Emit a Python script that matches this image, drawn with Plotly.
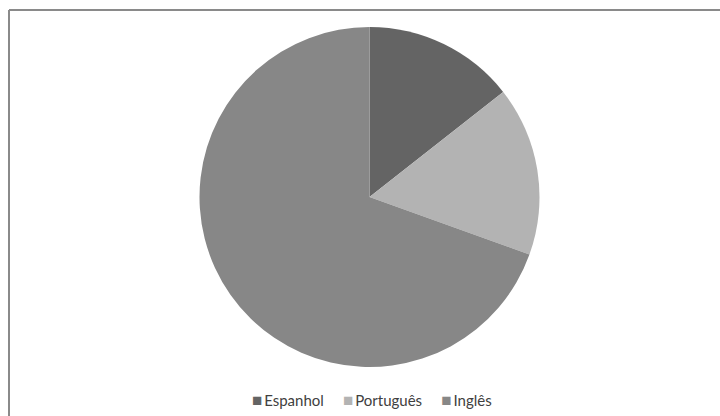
import plotly.graph_objects as go

labels = ["Espanhol", "Português", "Inglês"]
values = [14.4, 16.1, 69.5]
colors = ["#646464", "#b3b3b3", "#878787"]

W, H = 720, 416
fig = go.Figure(go.Pie(
    labels=labels, values=values, sort=False, direction="clockwise", rotation=0,
    marker=dict(colors=colors, line=dict(width=0)),
    textinfo="none", hoverinfo="label+percent",
    domain=dict(x=[197/W, 542/W], y=[(H-367)/H, (H-27)/H]),
    showlegend=False,
))

legend_text = "&nbsp;&nbsp;&nbsp;&nbsp;&nbsp;".join(
    f'<span style="color:{c};font-size:17px">■</span>\u2009{l}' for l, c in zip(labels, colors)
)
fig.update_layout(
    width=W, height=H, margin=dict(l=0, r=0, t=0, b=0),
    paper_bgcolor="white", plot_bgcolor="white",
    font=dict(family="Lato, Open Sans, sans-serif", size=15, color="#404040"),
    annotations=[dict(text=legend_text, xref="paper", yref="paper", x=372/W, y=(H-399)/H,
                      xanchor="center", yanchor="middle", showarrow=False,
                      font=dict(size=15, color="#404040"))],
    shapes=[
        dict(type="line", xref="paper", yref="paper", x0=9/W, x1=1, y0=(H-10)/H, y1=(H-10)/H,
             line=dict(color="#8a8a8a", width=2)),
        dict(type="line", xref="paper", yref="paper", x0=9/W, x1=9/W, y0=0, y1=(H-10)/H,
             line=dict(color="#8a8a8a", width=2)),
    ],
)
fig.write_html("out.html", config={"displayModeBar": False},
               post_script="document.body.style.margin='0';")
